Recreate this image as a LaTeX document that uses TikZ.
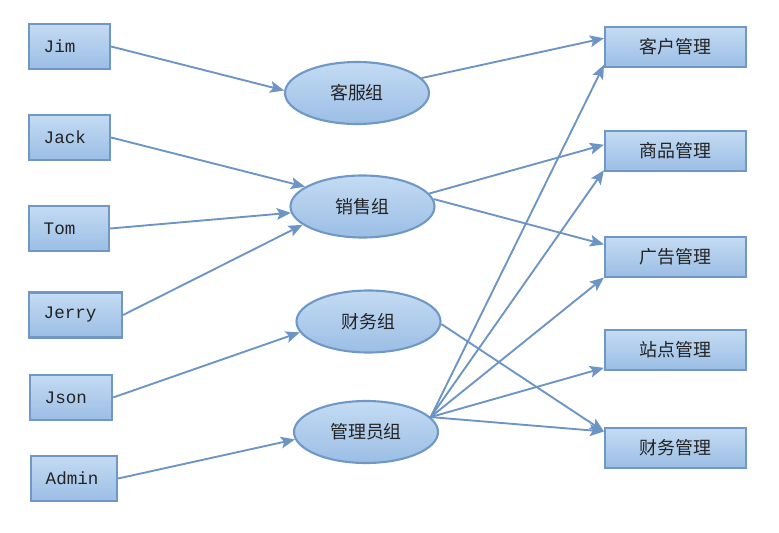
\documentclass[tikz,border=0pt]{standalone}
\usepackage{fontspec}
\usepackage{tikz}
\usetikzlibrary{shapes.geometric,arrows.meta,positioning,calc}
\newfontfamily\cjkfont{Noto Sans CJK SC}
\newfontfamily\monofont{Liberation Mono}
\definecolor{boxtop}{RGB}{196,219,243}
\definecolor{boxbot}{RGB}{155,190,229}
\definecolor{boxline}{RGB}{112,152,198}
\definecolor{linkcol}{RGB}{108,148,196}
\definecolor{txt}{RGB}{35,35,35}

\begin{document}
\begin{tikzpicture}[x=0.03cm,y=-0.03cm,
    filled/.style={draw=boxline, line width=1.8pt, top color=boxtop, bottom color=boxbot, text=txt},
    person/.style={filled, rectangle, anchor=west, minimum height=1.35cm, inner xsep=0.44cm, text width=#1, align=left, font=\monofont\fontsize{15}{18}\selectfont},
    group/.style={filled, ellipse, minimum width=4.32cm, minimum height=1.86cm, font=\cjkfont\fontsize{15.3}{18}\selectfont},
    task/.style={filled, rectangle, minimum width=4.23cm, minimum height=1.2cm, font=\cjkfont\fontsize{15.3}{18}\selectfont},
    link/.style={draw=linkcol, line width=1.6pt, -{Stealth[length=12pt,width=10pt,inset=2.5pt]}}]
    \useasboundingbox (0,0) rectangle (779,533);

    % users
    \node[person=1.55cm] (jim) at (28,46.5) {Jim};
    \node[person=1.55cm] (jack) at (28,137.5) {Jack};
    \node[person=1.52cm] (tom) at (28,228.5) {Tom};
    \node[person=1.91cm] (jerry) at (28,315) {Jerry};
    \node[person=1.58cm] (json) at (29,397.5) {Json};
    \node[person=1.70cm] (admin) at (30,478.5) {Admin};

    % groups
    \node[group] (kefu) at (357,93) {客服组};
    \node[group] (xiaoshou) at (362.5,206.5) {销售组};
    \node[group] (caiwu) at (368.5,321.5) {财务组};
    \node[group] (guanli) at (366,432) {管理员组};

    % permissions
    \node[task] (kehu) at (675.5,47) {客户管理};
    \node[task] (shangpin) at (675.5,151) {商品管理};
    \node[task] (guanggao) at (675.5,257) {广告管理};
    \node[task] (zhandian) at (675.5,350) {站点管理};
    \node[task] (caiwugl) at (675.5,448) {财务管理};

    % users -> groups
    \draw[link] (jim.east) -- (kefu.178);
    \draw[link] (jack.east) -- (xiaoshou.161);
    \draw[link] (tom.east) -- (xiaoshou.185);
    \draw[link] (jerry.east) -- (xiaoshou.197);
    \draw[link] (json.east) -- (caiwu.189);
    \draw[link] (admin.east) -- (guanli.186);

    % groups -> permissions
    \draw[link] (kefu.13) -- (kehu.173);
    \draw[link] (xiaoshou.11) -- (shangpin.175);
    \draw[link] (xiaoshou.6) -- (guanggao.170);
    \draw[link] (caiwu.358) -- (caiwugl.167);
    \foreach \t/\a in {kehu/194, shangpin/195, guanggao/196, zhandian/194, caiwugl/167}
        \draw[link] (guanli.13) -- (\t.\a);
\end{tikzpicture}
\end{document}
